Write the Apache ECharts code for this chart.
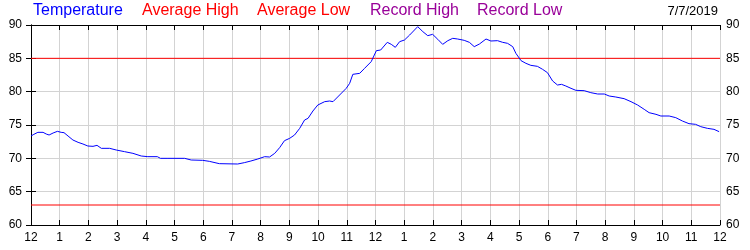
<!DOCTYPE html>
<html>
<head>
<meta charset="utf-8">
<script src="https://cdn.jsdelivr.net/npm/echarts@6/dist/echarts.min.js"></script>
<style>
html,body{margin:0;padding:0;background:#fff;}
#chart{width:750px;height:250px;}
</style>
</head>
<body>
<div id="chart"></div>
<script>
// Hour of day (0 = midnight) and temperature readings
var hours = [0,0.1,0.24,0.42,0.53,0.63,0.77,0.92,1.05,1.15,1.29,1.46,1.64,1.81,1.98,2.16,2.3,2.45,2.74,2.97,3.26,3.55,3.84,4.07,4.4,4.51,4.77,5.35,5.58,5.98,6.21,6.56,7.2,7.43,7.66,7.9,
  8.14,8.31,8.49,8.66,8.83,9.01,9.18,9.36,9.53,9.65,9.82,9.99,10.23,10.4,10.52,10.75,10.98,11.1,11.21,11.45,11.62,11.85,12.03,12.18,12.41,12.55,12.69,12.84,13.01,13.19,13.47,13.65,13.82,13.99,14.17,14.34,14.52,14.69,14.86,15.09,15.27,15.44,15.62,15.85,
  16.02,16.25,16.43,16.6,16.78,16.89,17.07,17.24,17.41,17.64,17.82,17.99,18.17,18.34,18.48,18.63,18.81,18.98,19.27,19.5,19.74,19.97,20.14,20.37,20.66,20.9,21.13,21.36,21.53,21.77,21.94,22.23,22.46,22.69,22.92,23.15,23.33,23.56,23.79,23.97];
var temps = [73.35,73.6,73.9,73.9,73.65,73.5,73.8,74.05,73.9,73.85,73.35,72.75,72.4,72.15,71.85,71.8,71.95,71.5,71.5,71.25,71.0,70.75,70.35,70.25,70.25,70.0,70.0,70.0,69.75,69.7,69.55,69.2,69.15,69.35,69.6,69.9,
  70.25,70.2,70.75,71.6,72.65,73.0,73.5,74.5,75.75,76.0,77.1,78.0,78.5,78.6,78.5,79.5,80.5,81.25,82.6,82.75,83.5,84.5,86.15,86.25,87.4,87.1,86.65,87.5,87.75,88.5,89.75,89.0,88.4,88.6,87.85,87.1,87.65,88.0,87.9,87.7,87.4,86.75,87.15,87.9,
  87.6,87.65,87.4,87.25,86.75,85.75,84.65,84.25,83.95,83.8,83.35,82.85,81.6,81.0,81.1,80.85,80.5,80.2,80.15,79.85,79.65,79.65,79.35,79.2,78.95,78.5,78.0,77.35,76.85,76.6,76.35,76.35,76.1,75.6,75.2,75.1,74.75,74.5,74.35,74.0];
var avgHigh = 85;
var avgLow = 63;
var hourLabels = ['12','1','2','3','4','5','6','7','8','9','10','11','12','1','2','3','4','5','6','7','8','9','10','11','12'];
var legendNames = ['Temperature','Average High','Average Low','Record High','Record Low'];
var dateText = '7/7/2019';

var FONT = 'Liberation Sans, Arial, sans-serif';
var series = [];
series.push({
  name: legendNames[0], type: 'line', showSymbol: false, symbol: 'none',
  data: hours.map(function(h, i){ return [h, temps[i]]; }),
  lineStyle: {color: '#0000ff', width: 1}, animation: false, z: 5
});
series.push({
  name: legendNames[1], type: 'line', symbol: 'none',
  data: [[0, avgHigh],[24, avgHigh]], lineStyle: {color: '#ff0000', width: 1}, animation: false
});
series.push({
  name: legendNames[2], type: 'line', symbol: 'none',
  data: [[0, avgLow],[24, avgLow]], lineStyle: {color: '#ff0000', width: 1}, animation: false
});

var legendX = [33, 142, 257, 370, 477];
var legendColors = ['#0000ff', '#ff0000', '#ff0000', '#990099', '#990099'];
var graphics = legendNames.map(function(n, i){
  return {type: 'text', left: legendX[i], top: 3, style: {text: n, fill: legendColors[i], font: '16px ' + FONT}};
});
graphics.push({type: 'text', right: 32, top: 5, style: {text: dateText, fill: '#000', font: '13px ' + FONT}});

var chart = echarts.init(document.getElementById('chart'), null, {renderer: 'canvas'});
var axisLbl = {color: '#000', fontSize: 12, fontFamily: FONT};
chart.setOption({
  animation: false,
  grid: {left: 31, right: 30, top: 25, bottom: 25, containLabel: false},
  xAxis: [{
    type: 'value', min: 0, max: 24, interval: 1, position: 'bottom',
    axisLine: {lineStyle: {color: '#000', width: 1}},
    axisTick: {inside: true, length: 5, lineStyle: {color: '#000'}},
    axisLabel: Object.assign({margin: 7, formatter: function(v){ return hourLabels[Math.round(v)]; }}, axisLbl),
    splitLine: {show: true, lineStyle: {color: '#d3d3d3', width: 1}}
  }, {
    type: 'value', min: 0, max: 24, interval: 1, position: 'top',
    axisLine: {lineStyle: {color: '#000', width: 1}},
    axisTick: {inside: true, length: 5, lineStyle: {color: '#000'}},
    axisLabel: {show: false}, splitLine: {show: false}
  }],
  yAxis: [{
    type: 'value', min: 60, max: 90, interval: 5, position: 'left',
    axisLine: {show: true, lineStyle: {color: '#000', width: 1}},
    axisTick: {show: true, inside: true, length: 5, lineStyle: {color: '#000'}},
    axisLabel: Object.assign({margin: 9}, axisLbl),
    splitLine: {show: true, lineStyle: {color: '#d3d3d3', width: 1}}
  }, {
    type: 'value', min: 60, max: 90, interval: 5, position: 'right',
    axisLine: {show: true, lineStyle: {color: '#000', width: 1}},
    axisTick: {show: true, inside: true, length: 5, lineStyle: {color: '#000'}},
    axisLabel: Object.assign({margin: 6}, axisLbl),
    splitLine: {show: false}
  }],
  series: series,
  graphic: graphics
});
</script>
</body>
</html>
